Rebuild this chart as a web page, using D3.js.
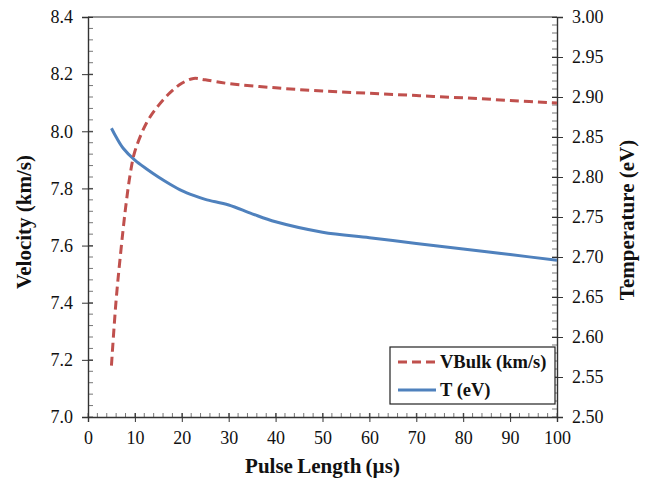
<!DOCTYPE html>
<html>
<head>
<meta charset="utf-8">
<script src="https://cdn.jsdelivr.net/npm/d3@7"></script>
<style>
  html, body { margin: 0; padding: 0; background: #fff; }
  svg { display: block; }
  text { font-family: "Liberation Serif", "Times New Roman", serif; fill: #111; }
</style>
</head>
<body>
<svg id="chart" width="647" height="479"></svg>
<script>
// ---- Data ----
const pulseV = [5, 6, 7, 8, 9, 10, 12.5, 15, 17.5, 20, 22.5, 25, 30, 40, 50, 60, 70, 80, 90, 100];
const velocity = [7.18, 7.41, 7.58, 7.73, 7.85, 7.93, 8.03, 8.09, 8.135, 8.168, 8.185, 8.18, 8.167, 8.152, 8.141, 8.133, 8.125, 8.117, 8.108, 8.099];
const pulseT = [5, 6, 7.5, 10, 12.5, 15, 17.5, 20, 22.5, 25, 30, 35, 40, 50, 60, 70, 80, 90, 100];
const temperature = [2.861, 2.85, 2.836, 2.821, 2.81, 2.8, 2.791, 2.783, 2.777, 2.772, 2.765, 2.754, 2.744, 2.731, 2.724, 2.717, 2.71, 2.703, 2.696];
const seriesNames = ["VBulk (km/s)", "T (eV)"];
const xTickLabels = [0, 10, 20, 30, 40, 50, 60, 70, 80, 90, 100];
const yLeftTicks = [7.0, 7.2, 7.4, 7.6, 7.8, 8.0, 8.2, 8.4];
const yRightTicks = [2.50, 2.55, 2.60, 2.65, 2.70, 2.75, 2.80, 2.85, 2.90, 2.95, 3.00];

// ---- Layout ----
const W = 647, H = 479;
const m = { left: 88, right: 90, top: 17, bottom: 62 };
const x0 = m.left, x1 = W - m.right, y0 = H - m.bottom, y1 = m.top;
const redC = "#C0504D", blueC = "#4F81BD", axisC = "#333";

const svg = d3.select("#chart");
const x = d3.scaleLinear().domain([0, 100]).range([x0, x1]);
const yL = d3.scaleLinear().domain([7.0, 8.4]).range([y0, y1]);
const yR = d3.scaleLinear().domain([2.5, 3.0]).range([y0, y1]);

const g = svg.append("g");

// top border
g.append("line").attr("x1", x0).attr("x2", x1).attr("y1", y1).attr("y2", y1)
  .attr("stroke", axisC).attr("stroke-width", 1.2);

// minor ticks (inside)
const minorX = d3.range(0, 100.001, 2);
g.selectAll(".mx").data(minorX).join("line")
  .attr("x1", d => x(d)).attr("x2", d => x(d)).attr("y1", y0).attr("y2", y0 - 4)
  .attr("stroke", "#777").attr("stroke-width", 1);
const minorL = d3.range(7.0, 8.4001, 0.04);
g.selectAll(".ml").data(minorL).join("line")
  .attr("x1", x0).attr("x2", x0 + 5).attr("y1", d => yL(d)).attr("y2", d => yL(d))
  .attr("stroke", "#777").attr("stroke-width", 1);
const minorR = d3.range(2.5, 3.0001, 0.01);
g.selectAll(".mr").data(minorR).join("line")
  .attr("x1", x1).attr("x2", x1 - 5).attr("y1", d => yR(d)).attr("y2", d => yR(d))
  .attr("stroke", "#777").attr("stroke-width", 1);

// Axes
const axB = d3.axisBottom(x).tickValues(xTickLabels).tickSize(5).tickPadding(9).tickFormat(d3.format("d"));
const axL = d3.axisLeft(yL).tickValues(yLeftTicks).tickSize(6).tickPadding(9).tickFormat(d3.format(".1f"));
const axR = d3.axisRight(yR).tickValues(yRightTicks).tickSize(6).tickPadding(9).tickFormat(d3.format(".2f"));

function style(sel) {
  sel.attr("font-family", null);
  sel.select(".domain").attr("stroke", axisC).attr("stroke-width", 1.4);
  sel.selectAll(".tick line").attr("stroke", axisC).attr("stroke-width", 1);
  sel.selectAll(".tick text").attr("font-size", 18).style("font-family", "'Liberation Serif', serif").attr("fill", "#111");
}
g.append("g").attr("transform", `translate(0,${y0})`).call(axB).call(style)
  .call(s => s.selectAll(".tick line").attr("y1", -4));
g.append("g").attr("transform", `translate(${x0},0)`).call(axL).call(style)
  .call(s => s.selectAll(".tick line").attr("x1", 5));
g.append("g").attr("transform", `translate(${x1},0)`).call(axR).call(style)
  .call(s => s.selectAll(".tick line").attr("x1", -5));

// lines
const lineV = d3.line().x((d, i) => x(pulseV[i])).y(d => yL(d)).curve(d3.curveCatmullRom.alpha(0.5));
const lineT = d3.line().x((d, i) => x(pulseT[i])).y(d => yR(d)).curve(d3.curveCatmullRom.alpha(0.5));

g.append("path").datum(temperature).attr("d", lineT)
  .attr("fill", "none").attr("stroke", blueC).attr("stroke-width", 3).attr("stroke-linejoin", "round");
g.append("path").datum(velocity).attr("d", lineV)
  .attr("fill", "none").attr("stroke", redC).attr("stroke-width", 3)
  .attr("stroke-dasharray", "9,5");

// Axis titles
svg.append("text").attr("x", (x0 + x1) / 2).attr("y", 473).attr("text-anchor", "middle")
  .attr("font-weight", "bold").attr("font-size", 21).attr("word-spacing", -1).text("Pulse Length (\u00b5s)");
svg.append("text").attr("transform", `translate(31,222) rotate(-90)`).attr("text-anchor", "middle")
  .attr("font-weight", "bold").attr("font-size", 21).text("Velocity (km/s)");
svg.append("text").attr("transform", `translate(634,220) rotate(-90)`).attr("text-anchor", "middle")
  .attr("font-weight", "bold").attr("font-size", 21).text("Temperature (eV)");

// Legend
const lg = svg.append("g");
lg.append("rect").attr("x", 390).attr("y", 347).attr("width", 165).attr("height", 57)
  .attr("fill", "#fff").attr("stroke", "#222").attr("stroke-width", 1.2);
const items = [
  { name: seriesNames[0], color: redC, dash: "9,5", y: 362 },
  { name: seriesNames[1], color: blueC, dash: null, y: 390 }
];
items.forEach(it => {
  lg.append("line").attr("x1", 398).attr("x2", 436).attr("y1", it.y).attr("y2", it.y)
    .attr("stroke", it.color).attr("stroke-width", 3).attr("stroke-dasharray", it.dash);
  lg.append("text").attr("x", 440).attr("y", it.y + 6).attr("font-weight", "bold")
    .attr("font-size", 18.5).text(it.name);
});
</script>
</body>
</html>
